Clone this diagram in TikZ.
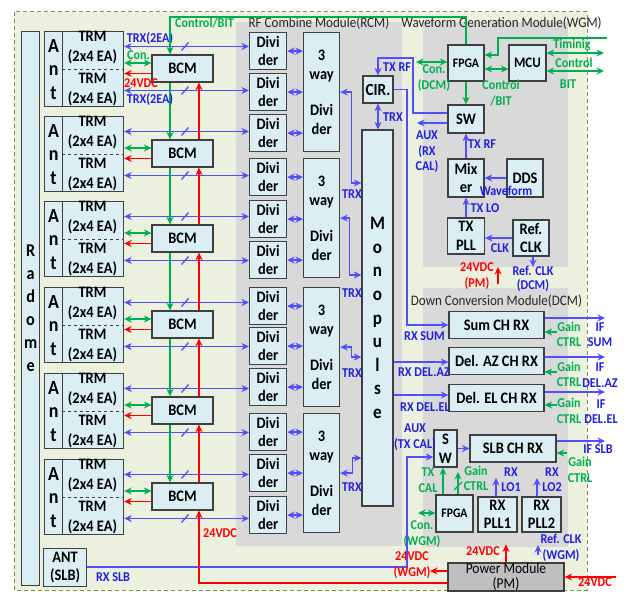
\documentclass[tikz,border=0pt]{standalone}
\usepackage{fontspec}
\setmainfont[FakeStretch=0.9]{Carlito}
\usetikzlibrary{arrows.meta}
\definecolor{bgG}{HTML}{EBF1DE}
\definecolor{grayM}{HTML}{D9D9D9}
\definecolor{boxB}{HTML}{DAEEF3}
\definecolor{lnB}{HTML}{4F4FFF}
\definecolor{txB}{HTML}{1F1FE6}
\definecolor{lnG}{HTML}{00B050}
\definecolor{lnR}{HTML}{FF0000}
\definecolor{dashO}{HTML}{77933C}
\definecolor{bordr}{HTML}{3F3F3F}
\definecolor{pmG}{HTML}{BFBFBF}
\definecolor{ttl}{HTML}{262626}
\tikzset{
  box/.style={draw=bordr, line width=1.2pt, fill=boxB, inner sep=0pt, align=center,
    font=\bfseries\fontsize{16}{18.5}\selectfont},
  txt/.style={inner sep=0pt, align=center, font=\bfseries\fontsize{16}{20}\selectfont},
  bl/.style={draw=lnB, line width=1.3pt},
  gl/.style={draw=lnG, line width=1.3pt},
  rl/.style={draw=lnR, line width=1.3pt},
  bA/.style={bl, -{Stealth[length=7.5pt,width=7pt]}},
  bB/.style={bl, {Stealth[length=7.5pt,width=7pt]}-{Stealth[length=7.5pt,width=7pt]}},
  gA/.style={gl, -{Stealth[length=7.5pt,width=7pt]}},
  gB/.style={gl, {Stealth[length=7.5pt,width=7pt]}-{Stealth[length=7.5pt,width=7pt]}},
  rA/.style={rl, -{Stealth[length=7.5pt,width=7pt]}},
  lab/.style={inner sep=0pt, align=center, font=\bfseries\fontsize{13.5}{15.5}\selectfont},
  lb/.style={lab, text=txB},
  lg/.style={lab, text=lnG},
  lr/.style={lab, text=lnR},
  ttlS/.style={inner sep=0pt, text=ttl, font=\fontsize{14.5}{16}\selectfont},
  dline/.style={draw=bordr, dashed, line width=1pt}
}
\begin{document}
\begin{tikzpicture}[x=1pt,y=-1pt]
\useasboundingbox (0,0) rectangle (626,594);
\fill[white] (0,0) rectangle (626,594);
% background
\fill[bgG] (14,12) rectangle (587,590);
\draw[dashO, line width=1pt, dash pattern=on 4pt off 3pt] (14,12) rectangle (587,590);
\fill[grayM] (236,22) rectangle (402,546);
\fill[grayM] (423,22) rectangle (568,267);
\fill[grayM] (423,288) rectangle (568,547);
% titles
\node[ttlS] (tRCM) at (319,23) {RF Combine Module(RCM)};
\node[ttlS] (tWGM) at (501.5,23) {Waveform Generation Module(WGM)};
\node[ttlS] (tDCM) at (496.5,301) {Down Conversion Module(DCM)};
% radome
\node[box, minimum width=18, minimum height=554, anchor=north west,
  font=\bfseries\fontsize{18}{23}\selectfont] (radome) at (21,31) {R\\a\\d\\o\\m\\e};
% dividers
\foreach \j/\D in {1/32,2/73,3/114,4/158,5/200,6/241,7/287,8/327,9/368,10/413,11/454,12/496}
  \node[box, minimum width=37, minimum height=37, anchor=north west] (div\j) at (249,\D) {Divi\\der};
\foreach \k/\W in {1/32,2/158,3/287,4/413}
  \node[box, minimum width=36, minimum height=119, anchor=north west] (way\k) at (303,\W) {3\\way\\[18pt]Divi\\der};
\foreach \j/\k in {1/1,2/1,3/1,4/2,5/2,6/2,7/3,8/3,9/3,10/4,11/4,12/4}
  \draw[bB] (div\j.east) -- (way\k.west |- div\j.east);
% ant groups
\foreach \i/\T in {1/31,2/116,3/201,4/287,5/373,6/459}{
  \pgfmathsetmacro\yA{\T+15.5}
  \pgfmathsetmacro\yB{\T+59.5}
  \pgfmathsetmacro\yC{\T+32}
  \pgfmathsetmacro\yR{\T+42.5}
  \pgfmathsetmacro\yM{\T+37.5}
  \pgfmathtruncatemacro\ja{2*\i-1}
  \pgfmathtruncatemacro\jb{2*\i}
  \node[box, minimum width=18, minimum height=75, anchor=north west,
    font=\bfseries\fontsize{20}{23.5}\selectfont] (ant\i) at (44,\T) {A\\n\\t};
  \node[box, minimum width=61, minimum height=75, anchor=north west] (trm\i) at (62,\T) {};
  \draw[dline] (trm\i.west) -- (trm\i.east);
  \node[txt] (trmu\i) at (92.5,\T+17) {TRM\\(2x4 EA)};
  \node[txt] (trml\i) at (92.5,\T+59) {TRM\\(2x4 EA)};
  \node[box, minimum width=61, minimum height=27] (bcm\i) at (182.5,\yM) {BCM};
  \draw[gB] (trm\i.east |- 0,\yC) -- (bcm\i.west |- 0,\yC);
  \draw[rA] (bcm\i.west |- 0,\yR) -- (trm\i.east |- 0,\yR);
  \draw[bB] (trm\i.east |- 0,\yA) -- (div\ja.west |- 0,\yA);
  \draw[bB] (trm\i.east |- 0,\yB) -- (div\jb.west |- 0,\yB);
  \draw[bl] (181.5,\yA+4) -- (188.5,\yA-4);
  \draw[bl] (181.5,\yB+4) -- (188.5,\yB-4);
}
\foreach \i/\j in {1/2,2/3,3/4,4/5,5/6}{
  \draw[gA] (bcm\i.south -| 170,0) -- (bcm\j.north -| 170,0);
  \draw[rA] (bcm\j.north -| 199,0) -- (bcm\i.south -| 199,0);
}
\node[lb] (lTRX1) at (150,39) {TRX(2EA)};
\node[lb] (lTRX2) at (150,100) {TRX(2EA)};
\node[lg] (lCon1) at (138.5,55) {Con.};
\node[lr] (l24a) at (141,83) {24VDC};
\node[lg] (lCB) at (204.5,23) {Control/BIT};
\node[box, minimum width=43, minimum height=38, anchor=north west] (antslb) at (43,548) {ANT\\(SLB)};
% monopulse & CIR
\node[box, minimum width=31, minimum height=376,
  font=\bfseries\fontsize{19}{23.6}\selectfont] (mono) at (377.5,318) {M\\o\\n\\o\\p\\u\\l\\s\\e};
\node[box, minimum width=30, minimum height=27,
  font=\bfseries\fontsize{17}{20}\selectfont] (cir) at (378,89.5) {CIR.};
\draw[bB] (cir.south) -- (cir.south |- mono.north);
\node[lb] (lTRXc) at (393,117) {TRX};
\draw[bB] (way1.east) -- ++(11,0) |- (mono.west |- 0,183);
\draw[bB] (way2.east) -- ++(9,0) |- (mono.west |- 0,275);
\draw[bB] (way3.east) -- ++(11,0) |- (mono.west |- 0,357);
\draw[bB] (way4.east) -- ++(12,0) |- (mono.west |- 0,458);
\node[lb] (lTRXa) at (352,194) {TRX};
\node[lb] (lTRXb) at (352,293) {TRX};
\node[lb] (lTRXd) at (352,373) {TRX};
\node[lb] (lTRXe) at (352,487) {TRX};
% WGM
\node[box, minimum width=36, minimum height=36, font=\bfseries\fontsize{13}{16}\selectfont] (fpga1) at (466,63) {FPGA};
\node[box, minimum width=37, minimum height=36, font=\bfseries\fontsize{14.5}{16}\selectfont] (mcu) at (527.5,63) {MCU};
\node[box, minimum width=36, minimum height=28] (sw1) at (466,119) {SW};
\node[box, minimum width=36, minimum height=38] (mix) at (466,178) {Mix\\er};
\node[box, minimum width=36, minimum height=38] (dds) at (525,178) {DDS};
\node[box, minimum width=37, minimum height=36] (txpll) at (466,236) {TX\\PLL};
\node[box, minimum width=36, minimum height=36] (refclk) at (531,238) {Ref.\\CLK};
\draw[gA] (fpga1.north) -- (466,17) -- (170,17) -- (bcm1.north -| 170,0);
\coordinate (timIn) at (607,38);
\draw[gA] (timIn) -- (498,38) -- (498,55) -- (fpga1.east |- 0,55);
\coordinate (mcuA) at (604,53);
\coordinate (mcuB) at (604,71);
\draw[gB] (mcu.east |- mcuA) -- (mcuA);
\draw[gB] (mcu.east |- mcuB) -- (mcuB);
\draw[gB] (fpga1.east |- 0,69) -- (mcu.west |- 0,69);
\coordinate (conD) at (416,62);
\draw[gB] (conD) -- (fpga1.west |- conD);
\draw[gA] (fpga1.south) -- (sw1.north);
\coordinate (auxR) at (417,123);
\draw[bA] (sw1.west |- auxR) -- (auxR);
\draw[bA] (sw1.west |- 0,113) -- (413,113) -- (413,58) -- (cir.north |- 0,58) -- (cir.north);
\draw[bA] (mix.north) -- (sw1.south);
\draw[bA] (dds.west) -- (mix.east);
\draw[bA] (txpll.north) -- (mix.south);
\draw[bA] (refclk.west |- 0,238) -- (txpll.east |- 0,238);
\coordinate (refD) at (533,267);
\draw[bA] (refclk.south -| refD) -- (refD);
\coordinate (pmA) at (498,284);
\draw[rA] (pmA) -- (498,267);
\node[lg] (lConD) at (434,78) {Con.\\(DCM)};
\node[lg] (lCB2) at (501,93) {Control\\/BIT};
\node[lg] (lTim) at (572,45) {Timinig};
\node[lg] (lCtl) at (574,63) {Control};
\node[lg] (lBIT) at (568,84) {BIT};
\node[lb] (lAuxR) at (427,152) {AUX\\(RX\\CAL)};
\node[lb] (lTXRF) at (397,67) {TX RF};
\node[lb] (lTXRF2) at (482,144) {TX RF};
\node[lb] (lWave) at (506,191) {Waveform};
\node[lb] (lTXLO) at (485,208) {TX LO};
\node[lb] (lCLK) at (500,248) {CLK};
\node[lb, font=\bfseries\fontsize{13.5}{14}\selectfont] (lRefD) at (533,278.5) {Ref. CLK\\(DCM)};
\node[lr] (l24PM) at (477,276) {24VDC\\(PM)};
% DCM
\node[box, minimum width=95, minimum height=27] (sum) at (496.5,325) {Sum CH RX};
\node[box, minimum width=95, minimum height=27] (delaz) at (496.5,361) {Del. AZ CH RX};
\node[box, minimum width=95, minimum height=27] (delel) at (496.5,398) {Del. EL CH RX};
\node[box, minimum width=23, minimum height=37] (sw2) at (445.5,448.5) {S\\W};
\node[box, minimum width=86, minimum height=27] (slb) at (513,448.5) {SLB CH RX};
\node[box, minimum width=37, minimum height=37, font=\bfseries\fontsize{13}{16}\selectfont] (fpga2) at (454.5,513.5) {FPGA};
\node[box, minimum width=39, minimum height=35] (pll1) at (497.5,514.5) {RX\\PLL1};
\node[box, minimum width=39, minimum height=35] (pll2) at (541.5,514.5) {RX\\PLL2};
\node[box, fill=pmG, minimum width=116, minimum height=28,
  font=\fontsize{15}{15}\selectfont] (pm) at (506,577) {Power Module\\(PM)};
\draw[bA] (cir.east) -- (407,89.5) -- (407,325) -- (sum.west);
\draw[bA] (mono.east |- 0,362) -- (delaz.west |- 0,362);
\draw[bA] (mono.east |- 0,395) -- (delel.west |- 0,395);
\coordinate (ifA) at (605,318);
\coordinate (ifB) at (605,357);
\coordinate (ifC) at (605,392);
\coordinate (ifD) at (605,441);
\draw[bA] (sum.east |- ifA) -- (ifA);
\draw[bA] (delaz.east |- ifB) -- (ifB);
\draw[bA] (delel.east |- ifC) -- (ifC);
\draw[bA] (slb.east |- ifD) -- (ifD);
\coordinate (gcA) at (557,332);
\coordinate (gcB) at (557,372);
\coordinate (gcC) at (557,405);
\coordinate (gcD) at (567,453);
\draw[gA] (gcA) -- (sum.east |- gcA);
\draw[gA] (gcB) -- (delaz.east |- gcB);
\draw[gA] (gcC) -- (delel.east |- gcC);
\draw[gA] (gcD) -- (slb.east |- gcD);
\draw[bA] (sw2.east) -- (slb.west);
\draw[bA] (antslb.east |- 0,567) -- (407,567) -- (407,457) -- (sw2.west |- 0,457);
\draw[gA] (fpga2.north -| 443,0) -- (sw2.south -| 443,0);
\draw[gA] (fpga2.north -| 458,0) -- (458,472);
\draw[gl] (454,490) -- (462,482);
\coordinate (conW) at (418,513);
\draw[gB] (fpga2.west |- conW) -- (conW);
\draw[bA] (pll1.north -| 496,0) -- (496,478);
\draw[bA] (pll2.north -| 537,0) -- (537,478);
\coordinate (refW) at (538,555);
\draw[bA] (refW) -- (538,545);
\draw[rA] (pm.north) -- ++(0,-18);
\coordinate (pwIn) at (616,577);
\draw[rA] (pwIn) -- (pm.east);
\coordinate (pwW) at (430,571);
\draw[rA] (pm.west |- pwW) -- (pwW);
\draw[rA] (pm.west |- 0,583) -- (199,583) -- (bcm6.south -| 199,0);
\node[lb] (lRXSUM) at (424.5,336) {RX SUM};
\node[lb] (lRXAZ) at (424,372) {RX DEL.AZ};
\node[lb] (lRXEL) at (425,407) {RX DEL.EL};
\node[lb] (lAuxT) at (415,437) {AUX\\(TX CAL)};
\node[lb] (lRXSLB) at (113,577) {RX SLB};
\node[lg] (lGa) at (569,334.5) {Gain\\CTRL};
\node[lg] (lGb) at (569,374.5) {Gain\\CTRL};
\node[lg] (lGc) at (569,411) {Gain\\CTRL};
\node[lg] (lGd) at (580,470) {Gain\\CTRL};
\node[lb] (lIFa) at (600,334.5) {IF\\SUM};
\node[lb] (lIFb) at (600,375) {IF\\DEL.AZ};
\node[lb] (lIFc) at (601,411.5) {IF\\DEL.EL};
\node[lb] (lIFd) at (598,449) {IF SLB};
\node[lg] (lTXCAL) at (428,480) {TX\\CAL};
\node[lg] (lGe) at (476,478.5) {Gain\\CTRL};
\node[lb] (lLO1) at (511,479.5) {RX\\LO1};
\node[lb] (lLO2) at (552,479.5) {RX\\LO2};
\node[lg] (lConW) at (422,534) {Con.\\(WGM)};
\node[lb] (lRefW) at (561,548) {Ref. CLK\\(WGM)};
\node[lr] (l24b) at (483,551) {24VDC};
\node[lr] (l24c) at (412,565) {24VDC\\(WGM)};
\node[lr] (l24d) at (595,582) {24VDC};
\node[lr] (l24e) at (220,533) {24VDC};
\end{tikzpicture}
\end{document}
